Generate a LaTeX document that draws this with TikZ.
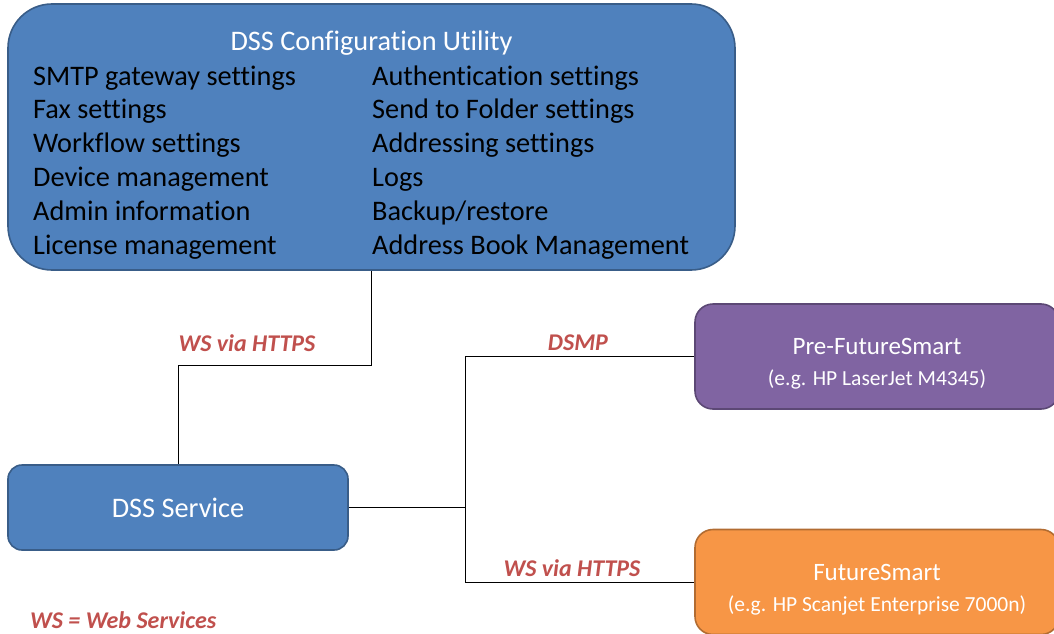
\documentclass[tikz,border=0pt]{standalone}
\usepackage{fontspec}
\setmainfont{Carlito}[Ligatures=CommonOff]
\usetikzlibrary{positioning}
\definecolor{cfgblue}{HTML}{4F81BD}
\definecolor{prepurple}{HTML}{8064A2}
\definecolor{fsorange}{HTML}{F79646}
\definecolor{protored}{HTML}{C0504D}

\begin{document}
\begin{tikzpicture}[x=1pt,y=-1pt]
    \tikzset{
        panel/.style={
            draw=#1!72!black,
            fill=#1,
            line width=1.6pt,
            inner sep=0pt,
            text=white,
            align=center
        },
        device/.style={
            panel=#1,
            rounded corners=18pt,
            minimum width=364pt,
            minimum height=105pt,
            text height=64pt,
            text depth=6pt,
            font=\fontsize{25}{31}\selectfont
        },
        item/.style={anchor=base west, inner sep=0pt, font=\fontsize{28.3}{34}\selectfont},
        proto/.style={anchor=base, inner sep=0pt, text=protored, font=\fontsize{24}{28}\selectfont\bfseries\itshape},
        link/.style={draw=black, line width=1pt},
    }
    \useasboundingbox (0,0) rectangle (1054,634);

    % boxes
    \node[panel=cfgblue, rounded corners=44pt, minimum width=727pt, minimum height=266pt] (cfg) at (371.5,137) {};
    \node[panel=cfgblue, rounded corners=14pt, minimum width=340pt, minimum height=85pt,
          font=\fontsize{28.3}{34}\selectfont] (svc) at (178,507.5) {DSS Service};
    \node[device=prepurple] (pre) at (877,356.5)
        {Pre-FutureSmart\\{\fontsize{21.5}{26}\selectfont (e.g. HP LaserJet M4345)}};
    \node[device=fsorange] (fs) at (877,582)
        {FutureSmart\\{\fontsize{21.5}{26}\selectfont (e.g. HP Scanjet Enterprise 7000n)}};

    % configuration utility texts
    \node[anchor=base, inner sep=0pt, text=white, font=\fontsize{28.3}{34}\selectfont] (cfgtitle) at (371.5,51) {DSS Configuration Utility};
    \foreach \i/\left/\right in {0/SMTP gateway settings/Authentication settings,
                                 1/Fax settings/Send to Folder settings,
                                 2/Workflow settings/Addressing settings,
                                 3/Device management/Logs,
                                 4/Admin information/{Backup/restore},
                                 5/License management/Address Book Management} {
        \node[item] (left-\i) at (33,85+33.8*\i) {\left};
        \node[item] (right-\i) at (372,85+33.8*\i) {\right};
    }

    % connectors
    \coordinate (split) at ([xshift=117pt]svc.east);
    \draw[link] (cfg.south) -- ++(0,95) -| (svc.north);
    \draw[link] (svc.east) -- (split);
    \draw[link] (split) |- (pre.west);
    \draw[link] (split) |- (fs.west);

    % protocol labels
    \node[proto] (ws-top) at (247,351) {WS via HTTPS};
    \node[proto] (dsmp) at (578,350) {DSMP};
    \node[proto] (ws-low) at (572,576) {WS via HTTPS};
    \node[proto, anchor=base west] (legend) at (30,628) {WS = Web Services};
\end{tikzpicture}
\end{document}
